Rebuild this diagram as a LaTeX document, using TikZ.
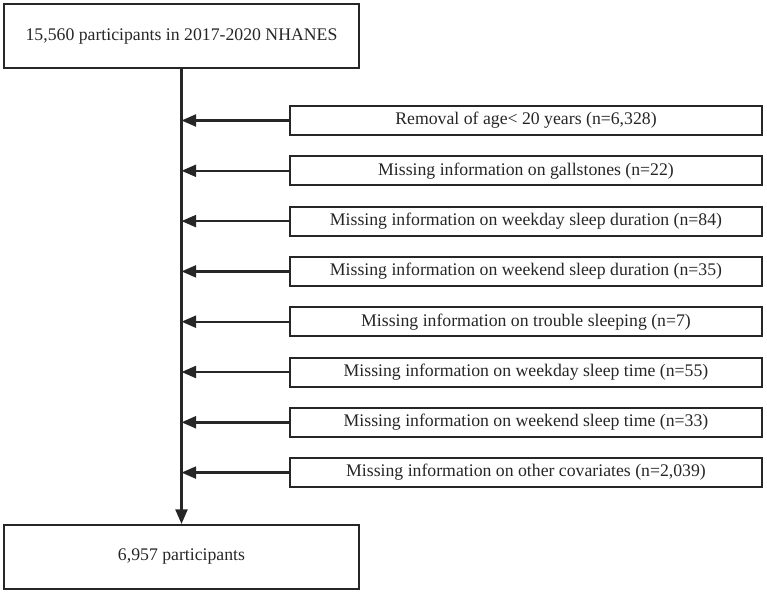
\documentclass[tikz,border=0pt]{standalone}
\usepackage{fontspec}
\setmainfont{Liberation Serif}
\usetikzlibrary{arrows.meta}
\begin{document}
\begin{tikzpicture}[x=0.75pt,y=-0.75pt,
  box/.style={draw=black!85, line width=1.5pt, inner sep=0pt, align=center, font=\fontsize{13.3}{15}\selectfont, text=black!85},
  bigbox/.style={box, minimum width=355*0.75pt, minimum height=64*0.75pt},
  sidebox/.style={box, minimum width=472*0.75pt, minimum height=29*0.75pt},
  arr/.style={draw=black!85, line width=1.8pt, -{Triangle[length=11pt,width=9pt]}}]
\useasboundingbox (0,0) rectangle (767,595);
\node[bigbox] (top) at (181.5,36.5) {15,560 participants in 2017-2020 NHANES};
\node[bigbox] (bot) at (181.5,557) {6,957 participants};
\foreach \i/\t in {0/{Removal of age< 20 years (n=6,328)},
                   1/{Missing information on gallstones (n=22)},
                   2/{Missing information on weekday sleep duration (n=84)},
                   3/{Missing information on weekend sleep duration (n=35)},
                   4/{Missing information on trouble sleeping (n=7)},
                   5/{Missing information on weekday sleep time (n=55)},
                   6/{Missing information on weekend sleep time (n=33)},
                   7/{Missing information on other covariates (n=2,039)}}{
  \node[sidebox] (b\i) at (526,120.5+50.3*\i) {\t};
  \draw[arr] (b\i.west) -- (b\i.west -| top.south);
}
\draw[arr] (top.south) -- (bot.north);
\end{tikzpicture}
\end{document}
